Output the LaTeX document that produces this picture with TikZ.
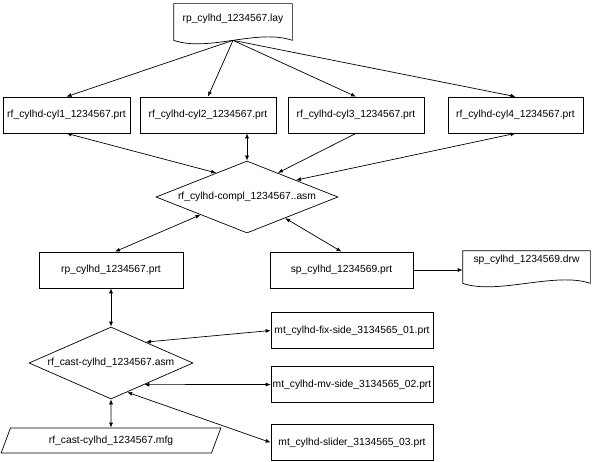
\documentclass[tikz,border=0pt]{standalone}
\usepackage{fontspec}
\setmainfont{Liberation Sans}
\usetikzlibrary{arrows.meta,calc,shapes.geometric}
\tikzset{
 cyl part/.style={draw,rectangle,minimum height=36pt,inner sep=0pt,
                  font=\fontsize{10.3pt}{12pt}\selectfont},
 cyl asm/.style={draw,diamond,aspect=2.5,inner sep=0pt,
                 font=\fontsize{10.3pt}{12pt}\selectfont},
 cyl doc/.style={rectangle,inner sep=0pt,font=\fontsize{10.3pt}{12pt}\selectfont},
 cyl mfg/.style={draw,trapezium,trapezium left angle=59,trapezium right angle=121,
                 trapezium stretches=true,minimum width=220pt,minimum height=25pt,
                 inner sep=0pt,font=\fontsize{10.3pt}{12pt}\selectfont},
 cyl link/.style={line width=.7pt,>={Latex[length=5pt,width=4pt]}}
}
\begin{document}
\begin{tikzpicture}[x=1pt,y=-1pt,line width=.7pt]
 \useasboundingbox (0,0) rectangle (593,462);

 \node[cyl doc,minimum width=118pt,minimum height=30pt] (lay) at (233,19) {rp\_cylhd\_1234567.lay};
 \draw (lay.north west) -- (lay.north east) -- ($(lay.south east)+(0,6)$)
   .. controls +(-35,-12) and +(35,12) .. ($(lay.south west)+(0,6)$) -- cycle;
 \coordinate (layfoot) at ($(lay.south)+(0,6)$);

 \node[cyl part,minimum width=127pt] (cyl1) at (66.5,115) {rf\_cylhd-cyl1\_1234567.prt};
 \node[cyl part,minimum width=136pt] (cyl2) at (208,115) {rf\_cylhd-cyl2\_1234567.prt};
 \node[cyl part,minimum width=136pt] (cyl3) at (356,115) {rf\_cylhd-cyl3\_1234567.prt};
 \node[cyl part,minimum width=135pt] (cyl4) at (515.5,115) {rf\_cylhd-cyl4\_1234567.prt};

 \node[cyl asm,minimum width=182pt,minimum height=72pt] (cmpl) at (247,197) {rf\_cylhd-compl\_1234567..asm};

 \node[cyl part,minimum width=144pt] (rp) at (111,270) {rp\_cylhd\_1234567.prt};
 \node[cyl part,minimum width=143pt] (sp) at (341.5,270) {sp\_cylhd\_1234569.prt};
 \node[cyl doc,minimum width=127pt,minimum height=18pt] (drw) at (526.5,260) {sp\_cylhd\_1234569.drw};
 \draw (drw.north west) -- (drw.north east) -- ($(drw.south east)+(0,14)$)
   .. controls +(-35,-12) and +(35,12) .. ($(drw.south west)+(0,14)$) -- cycle;

 \node[cyl asm,minimum width=164pt,minimum height=72pt] (cast) at (111,363) {rf\_cast-cylhd\_1234567.asm};
 \node[cyl mfg] (mfg) at (111,440.5) {rf\_cast-cylhd\_1234567.mfg};

 \node[cyl part,minimum width=162pt] (fix) at (352,330.5) {mt\_cylhd-fix-side\_3134565\_01.prt};
 \node[cyl part,minimum width=162pt] (mv) at (352,384.5) {mt\_cylhd-mv-side\_3134565\_02.prt};
 \node[cyl part,minimum width=162pt] (slider) at (352,442.5) {mt\_cylhd-slider\_3134565\_03.prt};

 \draw[cyl link,->] (layfoot) -- (cyl1.north);
 \draw[cyl link,->] (layfoot) -- (cyl2.north);
 \draw[cyl link,->] (layfoot) -- (cyl3.north);
 \draw[cyl link,->] (layfoot) -- (cyl4.north);

 \draw[cyl link,<->] (cyl1.south) -- (cmpl.142.3);
 \draw[cyl link,<->] (cmpl.north |- cyl2.south) -- (cmpl.north);
 \draw[cyl link,->] (cyl3.south) -- (cmpl.38.9);
 \draw[cyl link,<->] (cyl4.south) -- (cmpl.19.5);
 \draw[cyl link,<->] ($(rp.north)+(4,0)$) -- (cmpl.201);
 \draw[cyl link,<->] (sp.north) -- (cmpl.331);
 \draw[cyl link,->] (sp.east) -- (sp.east -| drw.west);

 \draw[cyl link,<->] (rp.south) -- (cast.north);
 \draw[cyl link,<->] (cast.31.7) -- (fix.west);
 \draw[cyl link,<->] (cast.-33.06) -- (mv.west);
 \draw[cyl link,<->] (cast.-61) -- (slider.west);
 \draw[cyl link,<->] (cast.south) -- (mfg.north);
\end{tikzpicture}
\end{document}
